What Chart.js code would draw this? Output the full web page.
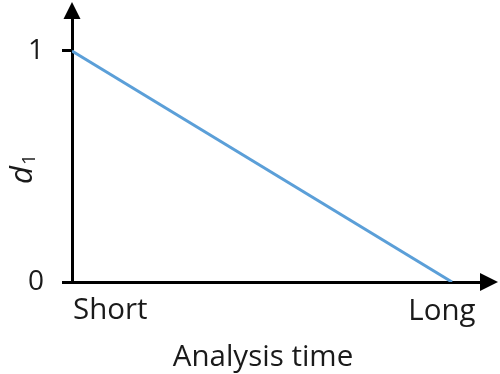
<!DOCTYPE html>
<html>
<head>
<meta charset="utf-8">
<script src="https://cdn.jsdelivr.net/npm/chart.js@4/dist/chart.umd.min.js"></script>
<style>
  html, body { margin: 0; padding: 0; background: #fff; }
</style>
</head>
<body>
<canvas id="chart" width="500" height="374"></canvas>
<script>
// data
const categories = ["Short", "Long"];
const timeValues = [0, 1];
const dValues = [1, 0];
const yTicks = [0, 1];
const yTickLabels = ["0", "1"];
const xTitle = "Analysis time";

const textColor = "#1a1a1a";
const fontName = "'Open Sans', 'Noto Sans', sans-serif";

// arrows, category labels and titles
const extras = {
    id: "extras",
    afterDraw(chart) {
        const ctx = chart.ctx;
        const area = chart.chartArea;
        const xs = chart.scales.x;

        ctx.save();
        ctx.fillStyle = "#000";
        // arrow on y axis
        ctx.beginPath();
        ctx.moveTo(area.left, area.top - 17);
        ctx.lineTo(area.left - 8.5, area.top);
        ctx.lineTo(area.left + 8.5, area.top);
        ctx.closePath();
        ctx.fill();
        // arrow on x axis
        ctx.beginPath();
        ctx.moveTo(area.right + 18, area.bottom);
        ctx.lineTo(area.right, area.bottom - 9);
        ctx.lineTo(area.right, area.bottom + 9);
        ctx.closePath();
        ctx.fill();

        ctx.fillStyle = textColor;
        ctx.font = "29.5px " + fontName;
        ctx.textBaseline = "alphabetic";
        // category labels
        ctx.textAlign = "left";
        ctx.fillText(categories[0], xs.getPixelForValue(timeValues[0]) + 1, area.bottom + 37);
        ctx.textAlign = "center";
        ctx.fillText(categories[1], xs.getPixelForValue(timeValues[1]) - 10, area.bottom + 38);
        // x title
        ctx.fillText(xTitle, area.left + 191, area.bottom + 84);

        // y title: italic d with subscript 1
        ctx.translate(32, 184);
        ctx.rotate(-Math.PI / 2);
        ctx.textAlign = "left";
        ctx.font = "italic 31px " + fontName;
        ctx.fillText("d", 0, 0);
        const w = ctx.measureText("d").width;
        ctx.font = "19px " + fontName;
        ctx.fillText("1", w + 1, 3);
        ctx.restore();
    }
};

const ctx = document.getElementById("chart");

new Chart(ctx, {
    type: "line",
    data: {
        datasets: [{
            data: timeValues.map((t, i) => ({ x: t, y: dValues[i] })),
            borderColor: "#5b9fd8",
            borderWidth: 3,
            pointRadius: 0,
            tension: 0
        }]
    },
    options: {
        responsive: false,
        animation: false,
        layout: { padding: { left: 0, top: 19, right: 20, bottom: 0 } },
        plugins: {
            legend: { display: false },
            tooltip: { enabled: false }
        },
        scales: {
            x: {
                type: "linear",
                min: 0,
                max: 1.0737,
                afterFit: (scale) => { scale.height = 92; },
                ticks: { display: false },
                grid: { display: false },
                border: { display: true, color: "#000", width: 3 }
            },
            y: {
                type: "linear",
                min: 0,
                max: 1.1385,
                afterFit: (scale) => {
                    scale.width = 72;
                    scale.paddingTop = 0;
                    scale.paddingBottom = 0;
                },
                afterBuildTicks: (scale) => {
                    scale.ticks = yTicks.map(v => ({ value: v }));
                },
                ticks: {
                    padding: 18,
                    color: textColor,
                    font: { family: fontName, size: 28 },
                    callback: (value) => yTickLabels[yTicks.indexOf(value)]
                },
                grid: {
                    drawOnChartArea: false,
                    drawTicks: true,
                    tickLength: 10,
                    color: "#000",
                    lineWidth: 3
                },
                border: { display: true, color: "#000", width: 3 }
            }
        }
    },
    plugins: [extras]
});
</script>
</body>
</html>
